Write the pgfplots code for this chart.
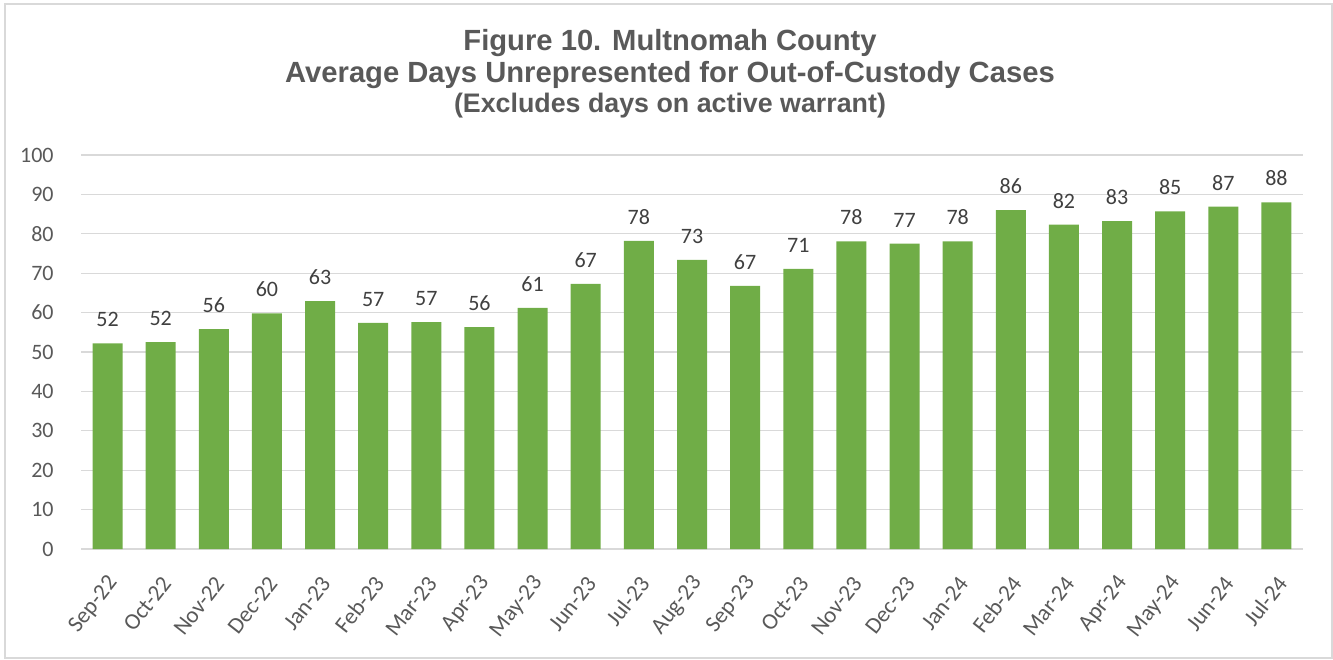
\documentclass[border=0pt]{standalone}
\usepackage{pgfplots}
\pgfplotsset{compat=1.18}
\usepackage{pgfplotstable}
\usepackage{fontspec}
\setmainfont{Carlito}
\newfontfamily\arialfont{Liberation Sans}
\definecolor{barG}{HTML}{70AD47}
\definecolor{gridC}{HTML}{D9D9D9}
\definecolor{tickC}{HTML}{595959}
\definecolor{labC}{HTML}{404040}
\definecolor{frameC}{HTML}{D9D9D9}

\pgfplotstableread{
x val lab
0 52.2 52
1 52.5 52
2 55.8 56
3 59.8 60
4 62.9 63
5 57.4 57
6 57.6 57
7 56.3 56
8 61.2 61
9 67.3 67
10 78.2 78
11 73.4 73
12 66.8 67
13 71.1 71
14 78.1 78
15 77.5 77
16 78.1 78
17 86.0 86
18 82.3 82
19 83.2 83
20 85.7 85
21 86.9 87
22 88.0 88
}\datatable

\begin{document}
\begin{tikzpicture}[x=0.5pt,y=0.5pt]
\useasboundingbox (0,0) rectangle (1333,659);
\draw[color=frameC, line width=1pt] (5,1.5) rectangle (1331.5,655);
\node[font=\arialfont\bfseries\fontsize{14.6}{16}\selectfont, text=tickC] at (670,616) {Figure 10. Multnomah County};
\node[font=\arialfont\bfseries\fontsize{14.6}{16}\selectfont, text=tickC] at (670,584) {Average Days Unrepresented for Out-of-Custody Cases};
\node[font=\arialfont\bfseries\fontsize{13.4}{15}\selectfont, text=tickC] at (670,553) {(Excludes days on active warrant)};
\begin{axis}[
  at={(40.5pt,55pt)}, anchor=south west,
  scale only axis, width=611pt, height=197pt,
  xmin=-0.5, xmax=22.5, ymin=0, ymax=100,
  ytick={0,10,...,100},
  xtick={0,...,22},
  xticklabels={Sep-22,Oct-22,Nov-22,Dec-22,Jan-23,Feb-23,Mar-23,Apr-23,May-23,Jun-23,Jul-23,Aug-23,Sep-23,Oct-23,Nov-23,Dec-23,Jan-24,Feb-24,Mar-24,Apr-24,May-24,Jun-24,Jul-24},
  axis line style={draw=none},
  major tick length=0pt,
  ymajorgrids,
  grid style={draw=gridC, line width=0.65pt},
  /pgf/number format/assume math mode=true,
  tick label style={font=\fontsize{11}{12}\selectfont, text=tickC},
  yticklabel style={anchor=east, inner sep=0pt, xshift=-13.5pt},
  xticklabel style={font=\fontsize{11.5}{12}\selectfont, xshift=3pt, yshift=-15pt, rotate=52, anchor=east, inner sep=0pt},
  ybar, bar width=15pt,
  nodes near coords={\pgfmathprintnumber{\pgfplotspointmeta}},
  point meta=explicit,
  every node near coord/.append style={font=\fontsize{11}{12}\selectfont, text=labC, inner sep=0pt, yshift=8pt},
]
\addplot[fill=barG, draw=none] table[x=x, y=val, meta=lab] {\datatable};
\end{axis}
\end{tikzpicture}
\end{document}
